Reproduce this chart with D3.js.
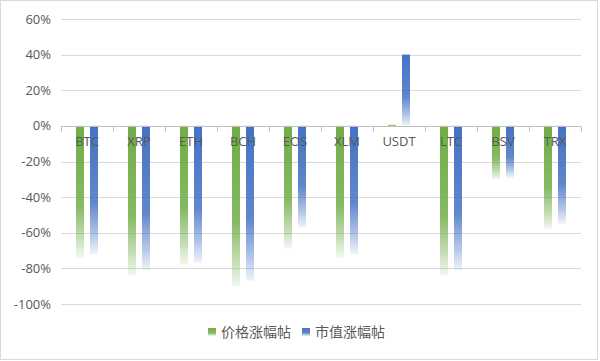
<!DOCTYPE html>
<html>
<head>
<meta charset="utf-8">
<script src="https://cdn.jsdelivr.net/npm/d3@7"></script>
<style>
  body { margin: 0; background: #fff; }
  svg { display: block; font-family: "Open Sans", "Noto Sans", sans-serif; }
</style>
</head>
<body>
<div id="container"></div>
<script>
//chart data
var categories = ["BTC", "XRP", "ETH", "BCH", "EOS", "XLM", "USDT", "LTC", "BSV", "TRX"];
var seriesNames = ["价格涨幅帖", "市值涨幅帖"];
var priceChange = [-74, -84, -78, -90, -69, -74, 0.6, -84, -30, -58];
var capChange = [-72, -81, -77, -87, -57, -72, 40, -81, -29, -55];
var yTicks = [60, 40, 20, 0, -20, -40, -60, -80, -100];

var width = 600, height = 361;
var margin = {top: 19, right: 19, bottom: 57, left: 61};
var colors = ["#70ad47", "#4472c4"];

var svg = d3.select("#container")
    .append("svg")
    .attr("width", width)
    .attr("height", height);

//outer border
svg.append("rect")
    .attr("x", 0.5).attr("y", 0.5)
    .attr("width", width - 3).attr("height", height - 2)
    .attr("fill", "#fff")
    .attr("stroke", "#d9d9d9");

//gradients (solid on top, fading at the bottom)
var defs = svg.append("defs");
colors.forEach(function(c, i) {
    var g = defs.append("linearGradient")
        .attr("id", "grad" + i)
        .attr("x1", 0).attr("y1", 0).attr("x2", 0).attr("y2", 1);
    g.append("stop").attr("offset", "0%").attr("stop-color", c).attr("stop-opacity", 1);
    g.append("stop").attr("offset", "60%").attr("stop-color", c).attr("stop-opacity", 0.85);
    g.append("stop").attr("offset", "85%").attr("stop-color", c).attr("stop-opacity", 0.4);
    g.append("stop").attr("offset", "100%").attr("stop-color", c).attr("stop-opacity", 0.08);
});

var x = d3.scaleBand().domain(categories).range([margin.left, width - margin.right]);
var y = d3.scaleLinear().domain([-100, 60]).range([height - margin.bottom, margin.top]);

//gridlines
svg.append("g")
    .selectAll("line")
    .data(yTicks)
    .enter().append("line")
    .attr("x1", margin.left).attr("x2", width - margin.right)
    .attr("y1", function(d) { return Math.round(y(d)) + 0.5; })
    .attr("y2", function(d) { return Math.round(y(d)) + 0.5; })
    .attr("stroke", "#d9d9d9");

//y axis labels
svg.append("g")
    .selectAll("text")
    .data(yTicks)
    .enter().append("text")
    .attr("x", margin.left - 10)
    .attr("y", function(d) { return y(d); })
    .attr("dy", "0.35em")
    .attr("text-anchor", "end")
    .attr("font-size", 13)
    .attr("fill", "#595959")
    .text(function(d) { return d + "%"; });

//bars
var xSub = d3.scaleOrdinal().domain([0, 1]).range([-11, 3]);
var allSeries = [priceChange, capChange];
allSeries.forEach(function(vals, si) {
    svg.append("g")
        .selectAll("rect")
        .data(vals)
        .enter().append("rect")
        .attr("x", function(d, i) { return x(categories[i]) + x.bandwidth() / 2 + xSub(si); })
        .attr("y", function(d) { return y(Math.max(0, d)); })
        .attr("width", 8)
        .attr("height", function(d) { return Math.abs(y(d) - y(0)); })
        .attr("fill", "url(#grad" + si + ")");
});

//zero axis with tick marks
var y0 = Math.round(y(0)) + 0.5;
svg.append("line")
    .attr("x1", margin.left).attr("x2", width - margin.right)
    .attr("y1", y0).attr("y2", y0)
    .attr("stroke", "#bfbfbf");
svg.append("g")
    .selectAll("line")
    .data(d3.range(categories.length + 1))
    .enter().append("line")
    .attr("x1", function(i) { return Math.round(margin.left + i * x.step()) + 0.5; })
    .attr("x2", function(i) { return Math.round(margin.left + i * x.step()) + 0.5; })
    .attr("y1", y0).attr("y2", y0 + 5)
    .attr("stroke", "#bfbfbf");

//category labels
svg.append("g")
    .selectAll("text")
    .data(categories)
    .enter().append("text")
    .attr("x", function(d) { return x(d) + x.bandwidth() / 2; })
    .attr("y", y0 + 19)
    .attr("text-anchor", "middle")
    .attr("font-size", 13)
    .attr("fill", "#595959")
    .text(function(d) { return d; });

//legend
var legend = svg.append("g").attr("transform", "translate(208,332)");
var legendX = [0, 94];
seriesNames.forEach(function(name, i) {
    legend.append("rect")
        .attr("x", legendX[i]).attr("y", -4)
        .attr("width", 8).attr("height", 8)
        .attr("fill", "url(#grad" + i + ")");
    legend.append("text")
        .attr("x", legendX[i] + 13)
        .attr("y", 0)
        .attr("dy", "0.35em")
        .attr("font-size", 14)
        .attr("font-family", "'Noto Sans CJK SC', sans-serif")
        .attr("fill", "#595959")
        .text(name);
});
</script>
</body>
</html>
